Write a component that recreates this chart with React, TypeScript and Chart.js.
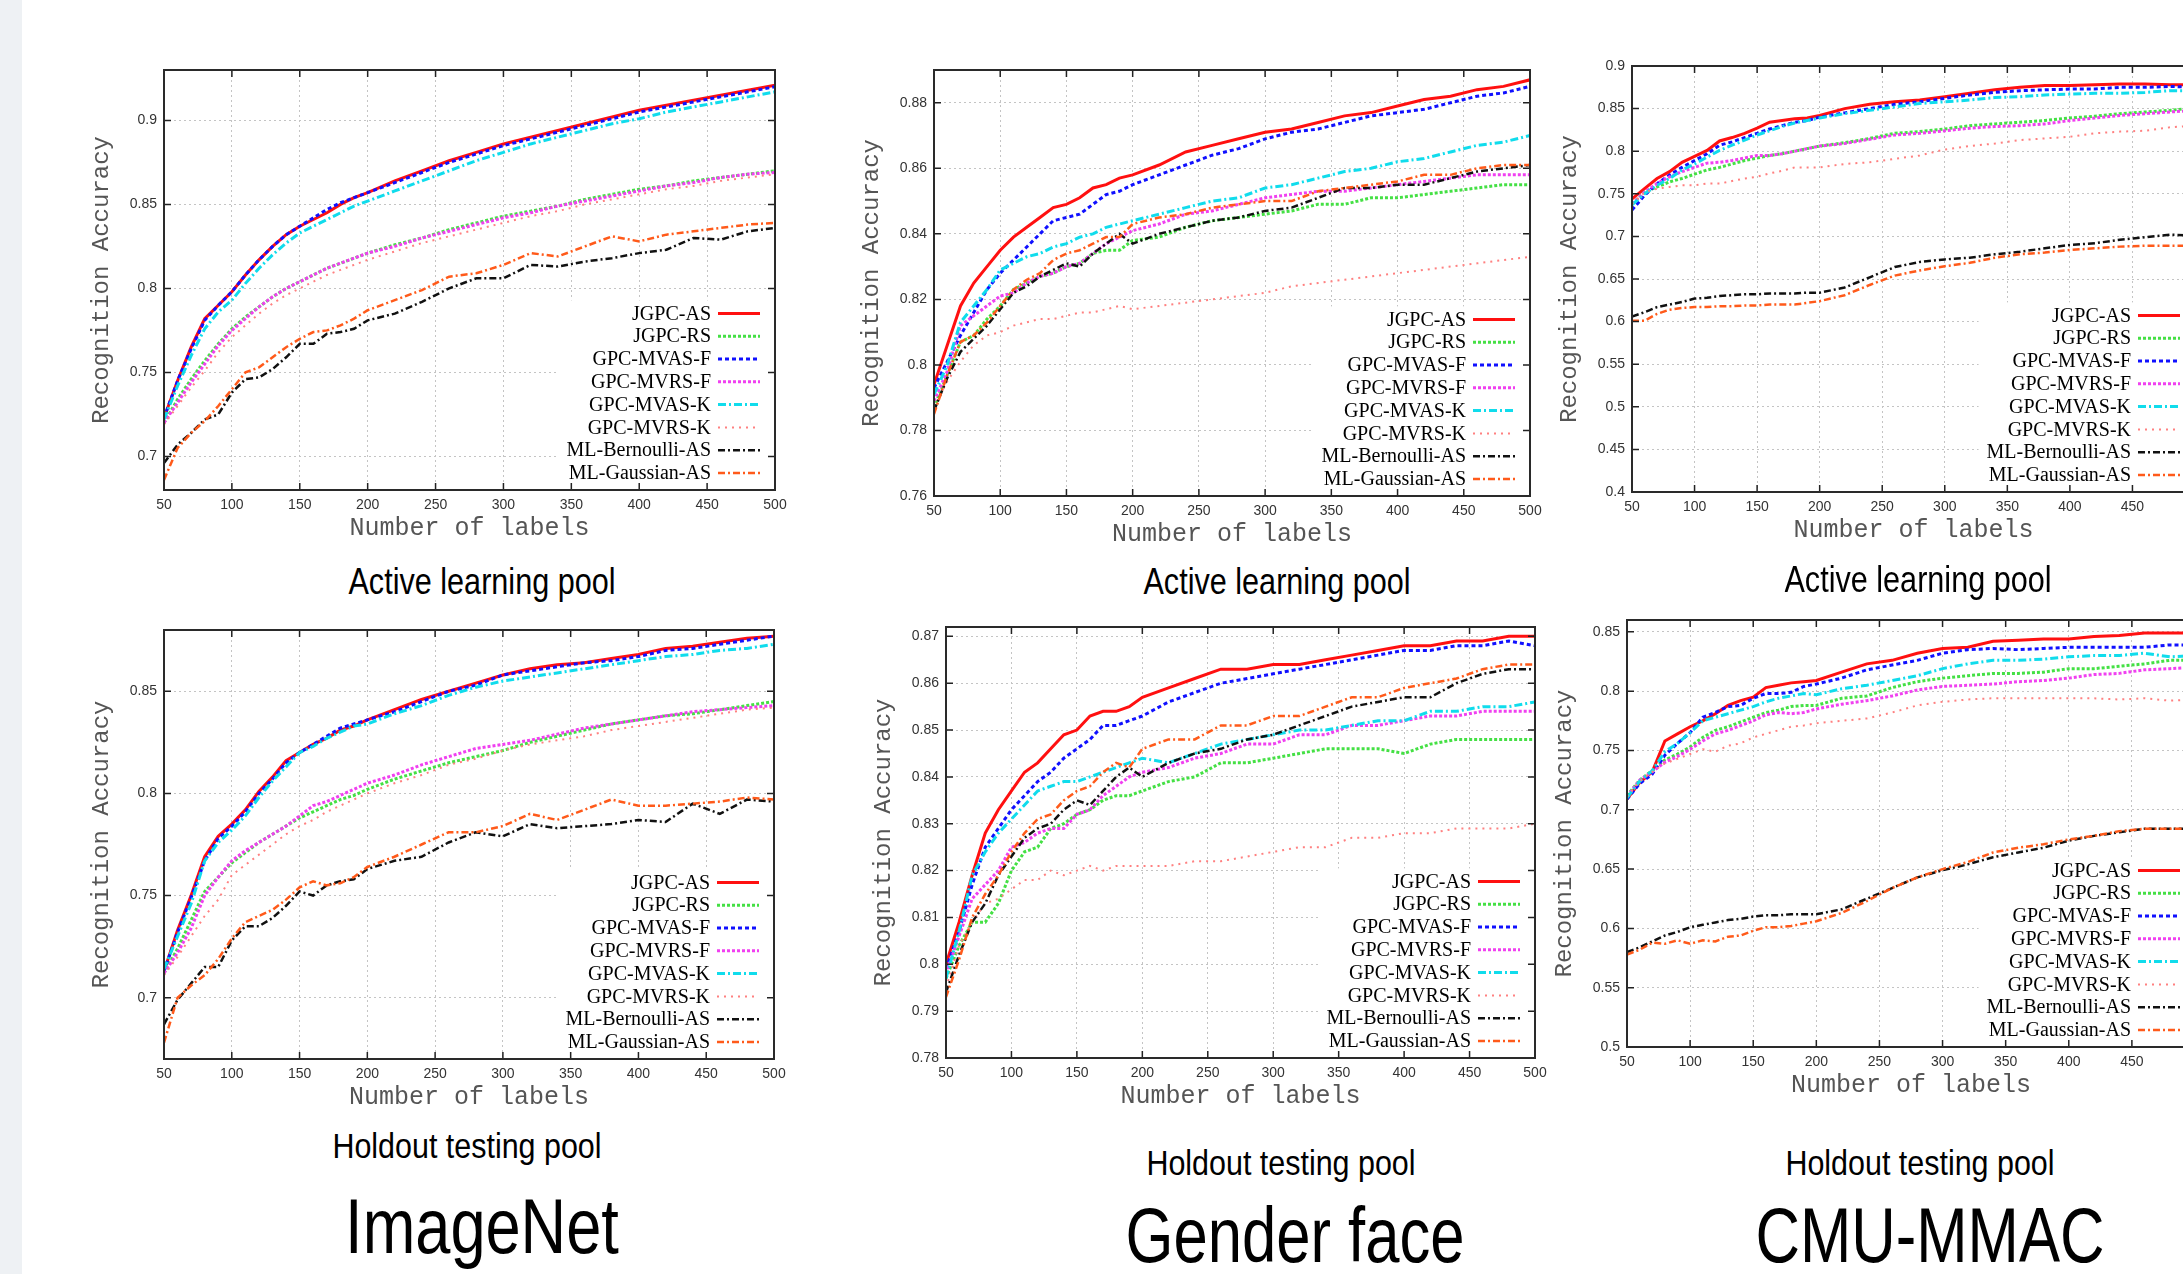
import React, { useEffect, useRef } from "react";
import { Chart, registerables } from "chart.js";

Chart.register(...registerables);

// ---------------- DATA ----------------
const X_VALUES = [50, 60, 70, 80, 90, 100, 110, 120, 130, 140, 150, 160, 170, 180, 190, 200, 220, 240, 260, 280, 300, 320, 340, 360, 380, 400, 420, 440, 460, 480, 500];
const X_TICKS = [50, 100, 150, 200, 250, 300, 350, 400, 450, 500];
const SERIES_NAMES = ["JGPC-AS", "JGPC-RS", "GPC-MVAS-F", "GPC-MVRS-F", "GPC-MVAS-K", "GPC-MVRS-K", "ML-Bernoulli-AS", "ML-Gaussian-AS"];

// ImageNet - Active learning pool
const IMG_ACT_JGPC_AS = [0.723, 0.745, 0.765, 0.782, 0.790, 0.798, 0.808, 0.817, 0.825, 0.832, 0.837, 0.841, 0.845, 0.850, 0.854, 0.857, 0.864, 0.870, 0.876, 0.881, 0.886, 0.890, 0.894, 0.898, 0.902, 0.906, 0.909, 0.912, 0.915, 0.918, 0.921];
const IMG_ACT_JGPC_RS = [0.720, 0.734, 0.746, 0.757, 0.767, 0.776, 0.783, 0.789, 0.795, 0.800, 0.804, 0.808, 0.812, 0.815, 0.818, 0.821, 0.826, 0.830, 0.835, 0.839, 0.843, 0.846, 0.849, 0.853, 0.856, 0.859, 0.861, 0.864, 0.866, 0.868, 0.870];
const IMG_ACT_MVAS_F = [0.723, 0.745, 0.764, 0.781, 0.790, 0.798, 0.808, 0.817, 0.825, 0.832, 0.837, 0.842, 0.847, 0.851, 0.854, 0.857, 0.863, 0.869, 0.875, 0.880, 0.885, 0.889, 0.893, 0.897, 0.901, 0.905, 0.908, 0.911, 0.914, 0.917, 0.920];
const IMG_ACT_MVRS_F = [0.720, 0.732, 0.744, 0.755, 0.766, 0.775, 0.782, 0.789, 0.795, 0.800, 0.804, 0.808, 0.812, 0.815, 0.818, 0.821, 0.825, 0.830, 0.834, 0.838, 0.842, 0.845, 0.849, 0.852, 0.855, 0.858, 0.861, 0.863, 0.866, 0.868, 0.869];
const IMG_ACT_MVAS_K = [0.722, 0.742, 0.760, 0.776, 0.786, 0.793, 0.803, 0.812, 0.820, 0.827, 0.833, 0.837, 0.841, 0.845, 0.849, 0.852, 0.858, 0.864, 0.870, 0.876, 0.881, 0.886, 0.890, 0.894, 0.898, 0.901, 0.905, 0.908, 0.911, 0.914, 0.917];
const IMG_ACT_MVRS_K = [0.719, 0.730, 0.741, 0.751, 0.762, 0.771, 0.778, 0.785, 0.791, 0.796, 0.800, 0.804, 0.808, 0.811, 0.814, 0.817, 0.822, 0.827, 0.831, 0.835, 0.839, 0.843, 0.846, 0.850, 0.853, 0.856, 0.859, 0.861, 0.864, 0.866, 0.868];
const IMG_ACT_ML_BER = [0.696, 0.707, 0.714, 0.722, 0.725, 0.738, 0.746, 0.747, 0.752, 0.759, 0.767, 0.767, 0.773, 0.774, 0.776, 0.781, 0.785, 0.792, 0.800, 0.806, 0.806, 0.814, 0.813, 0.816, 0.818, 0.821, 0.823, 0.830, 0.829, 0.834, 0.836];
const IMG_ACT_ML_GAU = [0.686, 0.705, 0.714, 0.721, 0.730, 0.740, 0.750, 0.753, 0.759, 0.765, 0.770, 0.774, 0.775, 0.778, 0.782, 0.787, 0.793, 0.799, 0.807, 0.809, 0.814, 0.821, 0.819, 0.825, 0.831, 0.828, 0.832, 0.834, 0.836, 0.838, 0.839];

// Gender face - Active learning pool
const GEN_ACT_JGPC_AS = [0.794, 0.806, 0.818, 0.825, 0.830, 0.835, 0.839, 0.842, 0.845, 0.848, 0.849, 0.851, 0.854, 0.855, 0.857, 0.858, 0.861, 0.865, 0.867, 0.869, 0.871, 0.872, 0.874, 0.876, 0.877, 0.879, 0.881, 0.882, 0.884, 0.885, 0.887];
const GEN_ACT_JGPC_RS = [0.787, 0.797, 0.807, 0.809, 0.814, 0.818, 0.823, 0.825, 0.827, 0.828, 0.830, 0.831, 0.834, 0.835, 0.835, 0.838, 0.839, 0.842, 0.844, 0.845, 0.846, 0.847, 0.849, 0.849, 0.851, 0.851, 0.852, 0.853, 0.854, 0.855, 0.855];
const GEN_ACT_MVAS_F = [0.793, 0.801, 0.809, 0.816, 0.823, 0.828, 0.832, 0.836, 0.840, 0.844, 0.845, 0.846, 0.849, 0.852, 0.853, 0.855, 0.858, 0.861, 0.864, 0.866, 0.869, 0.871, 0.872, 0.874, 0.876, 0.877, 0.878, 0.880, 0.882, 0.883, 0.885];
const GEN_ACT_MVRS_F = [0.789, 0.798, 0.812, 0.815, 0.818, 0.821, 0.822, 0.825, 0.827, 0.828, 0.830, 0.831, 0.834, 0.837, 0.839, 0.841, 0.843, 0.846, 0.847, 0.849, 0.851, 0.852, 0.853, 0.853, 0.854, 0.855, 0.856, 0.857, 0.858, 0.858, 0.858];
const GEN_ACT_MVAS_K = [0.791, 0.800, 0.813, 0.818, 0.823, 0.829, 0.831, 0.833, 0.834, 0.836, 0.837, 0.839, 0.840, 0.842, 0.843, 0.844, 0.846, 0.848, 0.850, 0.851, 0.854, 0.855, 0.857, 0.859, 0.860, 0.862, 0.863, 0.865, 0.867, 0.868, 0.870];
const GEN_ACT_MVRS_K = [0.787, 0.795, 0.801, 0.806, 0.809, 0.810, 0.812, 0.813, 0.814, 0.814, 0.815, 0.816, 0.816, 0.817, 0.818, 0.817, 0.818, 0.819, 0.820, 0.821, 0.822, 0.824, 0.825, 0.826, 0.827, 0.828, 0.829, 0.830, 0.831, 0.832, 0.833];
const GEN_ACT_ML_BER = [0.786, 0.796, 0.804, 0.808, 0.812, 0.817, 0.822, 0.824, 0.827, 0.829, 0.831, 0.830, 0.834, 0.837, 0.840, 0.837, 0.840, 0.842, 0.844, 0.845, 0.847, 0.848, 0.851, 0.854, 0.854, 0.855, 0.855, 0.857, 0.859, 0.860, 0.861];
const GEN_ACT_ML_GAU = [0.785, 0.797, 0.807, 0.809, 0.813, 0.818, 0.823, 0.826, 0.828, 0.832, 0.834, 0.835, 0.837, 0.839, 0.839, 0.843, 0.845, 0.846, 0.848, 0.849, 0.850, 0.850, 0.853, 0.854, 0.855, 0.856, 0.858, 0.858, 0.860, 0.861, 0.861];

// CMU-MMAC - Active learning pool
const CMU_ACT_JGPC_AS = [0.744, 0.756, 0.768, 0.776, 0.787, 0.794, 0.801, 0.812, 0.816, 0.821, 0.827, 0.834, 0.836, 0.838, 0.839, 0.842, 0.850, 0.855, 0.858, 0.860, 0.864, 0.868, 0.872, 0.875, 0.877, 0.877, 0.878, 0.879, 0.879, 0.878, 0.878];
const CMU_ACT_JGPC_RS = [0.738, 0.752, 0.758, 0.764, 0.768, 0.773, 0.778, 0.781, 0.785, 0.789, 0.792, 0.795, 0.797, 0.800, 0.803, 0.806, 0.810, 0.815, 0.821, 0.823, 0.826, 0.830, 0.832, 0.834, 0.836, 0.839, 0.841, 0.844, 0.846, 0.848, 0.851];
const CMU_ACT_MVAS_F = [0.731, 0.748, 0.762, 0.772, 0.781, 0.789, 0.797, 0.807, 0.811, 0.816, 0.821, 0.826, 0.830, 0.834, 0.836, 0.840, 0.845, 0.850, 0.855, 0.858, 0.862, 0.866, 0.869, 0.871, 0.872, 0.873, 0.873, 0.875, 0.875, 0.876, 0.875];
const CMU_ACT_MVRS_F = [0.738, 0.752, 0.762, 0.770, 0.776, 0.781, 0.786, 0.787, 0.789, 0.792, 0.795, 0.795, 0.797, 0.800, 0.803, 0.806, 0.809, 0.814, 0.819, 0.821, 0.824, 0.827, 0.829, 0.830, 0.832, 0.836, 0.839, 0.842, 0.844, 0.846, 0.848];
const CMU_ACT_MVAS_K = [0.737, 0.750, 0.760, 0.768, 0.778, 0.785, 0.793, 0.801, 0.807, 0.813, 0.819, 0.824, 0.829, 0.833, 0.836, 0.839, 0.844, 0.848, 0.852, 0.856, 0.858, 0.860, 0.863, 0.864, 0.866, 0.867, 0.868, 0.868, 0.869, 0.871, 0.871];
const CMU_ACT_MVRS_K = [0.738, 0.752, 0.756, 0.758, 0.760, 0.760, 0.762, 0.762, 0.765, 0.768, 0.770, 0.774, 0.777, 0.781, 0.781, 0.781, 0.785, 0.787, 0.791, 0.795, 0.802, 0.806, 0.809, 0.813, 0.815, 0.817, 0.821, 0.823, 0.824, 0.828, 0.830];
const CMU_ACT_ML_BER = [0.606, 0.611, 0.617, 0.620, 0.623, 0.627, 0.628, 0.630, 0.631, 0.632, 0.632, 0.633, 0.633, 0.633, 0.634, 0.634, 0.640, 0.652, 0.664, 0.670, 0.673, 0.675, 0.679, 0.682, 0.686, 0.690, 0.692, 0.696, 0.699, 0.702, 0.701];
const CMU_ACT_ML_GAU = [0.601, 0.601, 0.609, 0.614, 0.616, 0.617, 0.617, 0.618, 0.618, 0.619, 0.619, 0.620, 0.620, 0.620, 0.622, 0.624, 0.631, 0.643, 0.654, 0.660, 0.665, 0.669, 0.675, 0.679, 0.681, 0.684, 0.686, 0.688, 0.689, 0.689, 0.689];

// ImageNet - Holdout testing pool
const IMG_HOLD_JGPC_AS = [0.713, 0.733, 0.750, 0.769, 0.779, 0.785, 0.792, 0.801, 0.808, 0.816, 0.820, 0.824, 0.827, 0.831, 0.833, 0.836, 0.841, 0.846, 0.850, 0.854, 0.858, 0.861, 0.863, 0.864, 0.866, 0.868, 0.871, 0.872, 0.874, 0.876, 0.877];
const IMG_HOLD_JGPC_RS = [0.712, 0.724, 0.738, 0.752, 0.759, 0.766, 0.771, 0.776, 0.780, 0.784, 0.788, 0.791, 0.794, 0.797, 0.799, 0.802, 0.807, 0.811, 0.815, 0.818, 0.821, 0.825, 0.828, 0.831, 0.834, 0.836, 0.838, 0.839, 0.841, 0.843, 0.845];
const IMG_HOLD_MVAS_F = [0.713, 0.732, 0.749, 0.767, 0.778, 0.784, 0.791, 0.800, 0.807, 0.815, 0.820, 0.824, 0.828, 0.832, 0.834, 0.836, 0.840, 0.845, 0.850, 0.853, 0.858, 0.860, 0.862, 0.864, 0.865, 0.867, 0.870, 0.871, 0.873, 0.875, 0.877];
const IMG_HOLD_MVRS_F = [0.712, 0.722, 0.734, 0.750, 0.759, 0.767, 0.772, 0.776, 0.780, 0.784, 0.789, 0.794, 0.796, 0.799, 0.802, 0.805, 0.809, 0.814, 0.818, 0.822, 0.824, 0.826, 0.829, 0.832, 0.834, 0.836, 0.838, 0.840, 0.841, 0.842, 0.843];
const IMG_HOLD_MVAS_K = [0.714, 0.730, 0.746, 0.767, 0.776, 0.782, 0.789, 0.798, 0.806, 0.813, 0.820, 0.823, 0.827, 0.830, 0.833, 0.834, 0.839, 0.843, 0.848, 0.852, 0.855, 0.857, 0.859, 0.861, 0.863, 0.865, 0.867, 0.868, 0.870, 0.871, 0.873];
const IMG_HOLD_MVRS_K = [0.711, 0.720, 0.730, 0.740, 0.748, 0.760, 0.765, 0.770, 0.775, 0.780, 0.784, 0.787, 0.791, 0.794, 0.797, 0.800, 0.805, 0.809, 0.814, 0.817, 0.821, 0.824, 0.826, 0.828, 0.831, 0.833, 0.835, 0.837, 0.839, 0.841, 0.842];
const IMG_HOLD_ML_BER = [0.687, 0.699, 0.707, 0.715, 0.715, 0.728, 0.735, 0.735, 0.739, 0.745, 0.752, 0.750, 0.755, 0.757, 0.758, 0.763, 0.767, 0.769, 0.776, 0.781, 0.779, 0.785, 0.783, 0.784, 0.785, 0.787, 0.786, 0.795, 0.790, 0.797, 0.796];
const IMG_HOLD_ML_GAU = [0.678, 0.700, 0.706, 0.711, 0.719, 0.729, 0.737, 0.740, 0.743, 0.748, 0.754, 0.757, 0.755, 0.756, 0.759, 0.764, 0.769, 0.775, 0.781, 0.781, 0.784, 0.790, 0.787, 0.792, 0.797, 0.794, 0.794, 0.795, 0.796, 0.798, 0.797];

// Gender face - Holdout testing pool
const GEN_HOLD_JGPC_AS = [0.800, 0.809, 0.819, 0.828, 0.833, 0.837, 0.841, 0.843, 0.846, 0.849, 0.850, 0.853, 0.854, 0.854, 0.855, 0.857, 0.859, 0.861, 0.863, 0.863, 0.864, 0.864, 0.865, 0.866, 0.867, 0.868, 0.868, 0.869, 0.869, 0.870, 0.870];
const GEN_HOLD_JGPC_RS = [0.797, 0.804, 0.809, 0.809, 0.813, 0.820, 0.824, 0.825, 0.829, 0.830, 0.832, 0.833, 0.835, 0.836, 0.836, 0.837, 0.839, 0.840, 0.843, 0.843, 0.844, 0.845, 0.846, 0.846, 0.846, 0.845, 0.847, 0.848, 0.848, 0.848, 0.848];
const GEN_HOLD_MVAS_F = [0.799, 0.807, 0.817, 0.825, 0.829, 0.833, 0.836, 0.839, 0.841, 0.844, 0.846, 0.848, 0.851, 0.851, 0.852, 0.853, 0.856, 0.858, 0.860, 0.861, 0.862, 0.863, 0.864, 0.865, 0.866, 0.867, 0.867, 0.868, 0.868, 0.869, 0.868];
const GEN_HOLD_MVRS_F = [0.798, 0.806, 0.814, 0.817, 0.820, 0.825, 0.826, 0.828, 0.829, 0.829, 0.832, 0.833, 0.836, 0.838, 0.840, 0.841, 0.842, 0.844, 0.845, 0.847, 0.847, 0.849, 0.849, 0.851, 0.851, 0.852, 0.853, 0.853, 0.854, 0.854, 0.854];
const GEN_HOLD_MVAS_K = [0.797, 0.807, 0.819, 0.824, 0.828, 0.831, 0.834, 0.837, 0.838, 0.839, 0.839, 0.840, 0.841, 0.842, 0.843, 0.844, 0.843, 0.845, 0.847, 0.848, 0.849, 0.850, 0.850, 0.851, 0.852, 0.852, 0.854, 0.854, 0.855, 0.855, 0.856];
const GEN_HOLD_MVRS_K = [0.795, 0.804, 0.809, 0.813, 0.814, 0.816, 0.818, 0.818, 0.820, 0.819, 0.820, 0.821, 0.820, 0.821, 0.821, 0.821, 0.821, 0.822, 0.822, 0.823, 0.824, 0.825, 0.825, 0.827, 0.827, 0.828, 0.828, 0.829, 0.829, 0.829, 0.830];
const GEN_HOLD_ML_BER = [0.794, 0.802, 0.809, 0.813, 0.819, 0.823, 0.827, 0.829, 0.830, 0.833, 0.835, 0.834, 0.837, 0.840, 0.842, 0.840, 0.843, 0.845, 0.846, 0.848, 0.849, 0.851, 0.853, 0.855, 0.856, 0.857, 0.857, 0.860, 0.862, 0.863, 0.863];
const GEN_HOLD_ML_GAU = [0.793, 0.801, 0.810, 0.815, 0.819, 0.824, 0.828, 0.831, 0.832, 0.835, 0.837, 0.838, 0.841, 0.843, 0.842, 0.846, 0.848, 0.848, 0.851, 0.851, 0.853, 0.853, 0.855, 0.857, 0.857, 0.859, 0.860, 0.861, 0.863, 0.864, 0.864];

// CMU-MMAC - Holdout testing pool
const CMU_HOLD_JGPC_AS = [0.709, 0.723, 0.732, 0.758, 0.764, 0.770, 0.775, 0.781, 0.788, 0.792, 0.795, 0.803, 0.805, 0.807, 0.808, 0.809, 0.816, 0.823, 0.826, 0.832, 0.836, 0.837, 0.842, 0.843, 0.844, 0.844, 0.846, 0.847, 0.849, 0.849, 0.849];
const CMU_HOLD_JGPC_RS = [0.712, 0.725, 0.733, 0.742, 0.747, 0.753, 0.761, 0.767, 0.770, 0.774, 0.778, 0.782, 0.784, 0.787, 0.788, 0.788, 0.794, 0.796, 0.803, 0.808, 0.811, 0.813, 0.815, 0.815, 0.816, 0.819, 0.819, 0.821, 0.823, 0.826, 0.826];
const CMU_HOLD_MVAS_F = [0.709, 0.722, 0.730, 0.746, 0.756, 0.765, 0.778, 0.782, 0.787, 0.788, 0.794, 0.798, 0.798, 0.799, 0.804, 0.806, 0.811, 0.818, 0.822, 0.826, 0.832, 0.835, 0.836, 0.835, 0.836, 0.837, 0.837, 0.837, 0.837, 0.839, 0.839];
const CMU_HOLD_MVRS_F = [0.711, 0.725, 0.732, 0.740, 0.745, 0.751, 0.758, 0.764, 0.767, 0.771, 0.775, 0.780, 0.782, 0.781, 0.782, 0.785, 0.789, 0.792, 0.796, 0.801, 0.804, 0.805, 0.806, 0.808, 0.809, 0.811, 0.814, 0.815, 0.818, 0.819, 0.820];
const CMU_HOLD_MVAS_K = [0.710, 0.724, 0.733, 0.749, 0.756, 0.765, 0.775, 0.778, 0.781, 0.784, 0.787, 0.791, 0.794, 0.796, 0.798, 0.797, 0.802, 0.805, 0.809, 0.813, 0.819, 0.823, 0.826, 0.826, 0.827, 0.829, 0.830, 0.830, 0.832, 0.829, 0.830];
const CMU_HOLD_MVRS_K = [0.711, 0.724, 0.732, 0.739, 0.743, 0.747, 0.751, 0.749, 0.754, 0.756, 0.761, 0.764, 0.767, 0.770, 0.771, 0.773, 0.775, 0.777, 0.782, 0.788, 0.791, 0.793, 0.794, 0.794, 0.794, 0.794, 0.794, 0.793, 0.794, 0.792, 0.793];
const CMU_HOLD_ML_BER = [0.580, 0.584, 0.589, 0.594, 0.597, 0.601, 0.603, 0.605, 0.607, 0.608, 0.610, 0.611, 0.611, 0.612, 0.612, 0.612, 0.616, 0.625, 0.634, 0.643, 0.649, 0.654, 0.660, 0.664, 0.668, 0.674, 0.678, 0.681, 0.684, 0.684, 0.684];
const CMU_HOLD_ML_GAU = [0.578, 0.582, 0.588, 0.587, 0.590, 0.587, 0.590, 0.589, 0.593, 0.594, 0.598, 0.601, 0.601, 0.602, 0.604, 0.606, 0.613, 0.623, 0.634, 0.643, 0.650, 0.656, 0.664, 0.668, 0.671, 0.675, 0.678, 0.682, 0.684, 0.684, 0.684];

// y tick labels
const IMG_ACT_YTICKS = [0.7, 0.75, 0.8, 0.85, 0.9];
const GEN_ACT_YTICKS = [0.76, 0.78, 0.8, 0.82, 0.84, 0.86, 0.88];
const CMU_ACT_YTICKS = [0.4, 0.45, 0.5, 0.55, 0.6, 0.65, 0.7, 0.75, 0.8, 0.85, 0.9];
const IMG_HOLD_YTICKS = [0.7, 0.75, 0.8, 0.85];
const GEN_HOLD_YTICKS = [0.78, 0.79, 0.8, 0.81, 0.82, 0.83, 0.84, 0.85, 0.86, 0.87];
const CMU_HOLD_YTICKS = [0.5, 0.55, 0.6, 0.65, 0.7, 0.75, 0.8, 0.85];

// ---------------- STYLE / LAYOUT ----------------
const STYLES = [
  { color: "#ff1010", dash: [], width: 3 },
  { color: "#44e044", dash: [3, 2], width: 3 },
  { color: "#1010ff", dash: [4, 3], width: 3 },
  { color: "#f040f0", dash: [3, 2], width: 3 },
  { color: "#10dcec", dash: [8, 3, 2, 3], width: 3 },
  { color: "#ff8080", dash: [2, 5], width: 2 },
  { color: "#111111", dash: [7, 3, 2, 3], width: 2.5 },
  { color: "#ff5a1a", dash: [7, 3, 2, 3], width: 2.5 },
];

const PAD_L = 6, PAD_T = 22, PAD_R = 28, PAD_B = 2, Y_AXIS_W = 74, X_AXIS_H = 51;

const PANELS = [
  { series: [IMG_ACT_JGPC_AS, IMG_ACT_JGPC_RS, IMG_ACT_MVAS_F, IMG_ACT_MVRS_F, IMG_ACT_MVAS_K, IMG_ACT_MVRS_K, IMG_ACT_ML_BER, IMG_ACT_ML_GAU], yMin: 0.68, yMax: 0.93, yTicks: IMG_ACT_YTICKS, rect: { L: 164, T: 70, R: 775, B: 490 } },
  { series: [GEN_ACT_JGPC_AS, GEN_ACT_JGPC_RS, GEN_ACT_MVAS_F, GEN_ACT_MVRS_F, GEN_ACT_MVAS_K, GEN_ACT_MVRS_K, GEN_ACT_ML_BER, GEN_ACT_ML_GAU], yMin: 0.76, yMax: 0.89, yTicks: GEN_ACT_YTICKS, rect: { L: 934, T: 70, R: 1530, B: 496 } },
  { series: [CMU_ACT_JGPC_AS, CMU_ACT_JGPC_RS, CMU_ACT_MVAS_F, CMU_ACT_MVRS_F, CMU_ACT_MVAS_K, CMU_ACT_MVRS_K, CMU_ACT_ML_BER, CMU_ACT_ML_GAU], yMin: 0.4, yMax: 0.9, yTicks: CMU_ACT_YTICKS, rect: { L: 1632, T: 66, R: 2195, B: 492 } },
  { series: [IMG_HOLD_JGPC_AS, IMG_HOLD_JGPC_RS, IMG_HOLD_MVAS_F, IMG_HOLD_MVRS_F, IMG_HOLD_MVAS_K, IMG_HOLD_MVRS_K, IMG_HOLD_ML_BER, IMG_HOLD_ML_GAU], yMin: 0.67, yMax: 0.88, yTicks: IMG_HOLD_YTICKS, rect: { L: 164, T: 630, R: 774, B: 1059 } },
  { series: [GEN_HOLD_JGPC_AS, GEN_HOLD_JGPC_RS, GEN_HOLD_MVAS_F, GEN_HOLD_MVRS_F, GEN_HOLD_MVAS_K, GEN_HOLD_MVRS_K, GEN_HOLD_ML_BER, GEN_HOLD_ML_GAU], yMin: 0.78, yMax: 0.872, yTicks: GEN_HOLD_YTICKS, rect: { L: 946, T: 627, R: 1535, B: 1058 } },
  { series: [CMU_HOLD_JGPC_AS, CMU_HOLD_JGPC_RS, CMU_HOLD_MVAS_F, CMU_HOLD_MVRS_F, CMU_HOLD_MVAS_K, CMU_HOLD_MVRS_K, CMU_HOLD_ML_BER, CMU_HOLD_ML_GAU], yMin: 0.5, yMax: 0.86, yTicks: CMU_HOLD_YTICKS, rect: { L: 1627, T: 620, R: 2195, B: 1047 } },
];

const LABELS = [
  { text: "Active learning pool", cx: 482, capTop: 569, fs: 36, sx: 0.85 },
  { text: "Active learning pool", cx: 1277, capTop: 569, fs: 36, sx: 0.85 },
  { text: "Active learning pool", cx: 1918, capTop: 567, fs: 36, sx: 0.85 },
  { text: "Holdout testing pool", cx: 467, capTop: 1133, fs: 35, sx: 0.87 },
  { text: "Holdout testing pool", cx: 1281, capTop: 1150, fs: 35, sx: 0.87 },
  { text: "Holdout testing pool", cx: 1920, capTop: 1150, fs: 35, sx: 0.87 },
  { text: "ImageNet", cx: 482, capTop: 1198, fs: 77, sx: 0.82 },
  { text: "Gender face", cx: 1295, capTop: 1207, fs: 77, sx: 0.8 },
  { text: "CMU-MMAC", cx: 1930, capTop: 1207, fs: 77, sx: 0.8 },
];

const LEG_FONT = '20px "Liberation Serif", "Times New Roman", serif';

function legendLayout(chart: any) {
  const a = chart.chartArea;
  const ctx = chart.ctx;
  const n = chart.data.datasets.length;
  const spacing = 22.8;
  const lastY = a.bottom - 17;
  const sampleRight = a.right - 15;
  const sampleLeft = sampleRight - 42;
  const textRight = sampleLeft - 7;
  ctx.save();
  ctx.font = LEG_FONT;
  let maxW = 0;
  chart.data.datasets.forEach((d: any) => { maxW = Math.max(maxW, ctx.measureText(d.label).width); });
  ctx.restore();
  const firstY = lastY - (n - 1) * spacing;
  return { spacing, lastY, firstY, sampleLeft, sampleRight, textRight, boxLeft: textRight - maxW - 8, boxTop: firstY - 13 };
}

const framePlugin = {
  id: "gnuFrame",
  beforeDatasetsDraw(chart: any) {
    const { ctx, chartArea: a } = chart;
    const lay = legendLayout(chart);
    ctx.save();
    ctx.fillStyle = "#ffffff";
    ctx.fillRect(lay.boxLeft, lay.boxTop, a.right - lay.boxLeft - 1, a.bottom - lay.boxTop - 1);
    ctx.restore();
  },
  afterDatasetsDraw(chart: any) {
    const { ctx, chartArea: a } = chart;
    const lay = legendLayout(chart);
    ctx.save();
    // legend
    ctx.font = LEG_FONT;
    ctx.textAlign = "right";
    ctx.textBaseline = "middle";
    chart.data.datasets.forEach((d: any, i: number) => {
      const y = lay.firstY + i * lay.spacing;
      ctx.fillStyle = "#000";
      ctx.fillText(d.label, lay.textRight, y + 1);
      ctx.save();
      ctx.strokeStyle = d.borderColor;
      ctx.lineWidth = d.borderWidth;
      ctx.setLineDash(d.borderDash || []);
      ctx.beginPath();
      ctx.moveTo(lay.sampleLeft, y);
      ctx.lineTo(lay.sampleRight, y);
      ctx.stroke();
      ctx.restore();
    });
    // inward ticks
    ctx.strokeStyle = "#222";
    ctx.lineWidth = 1.5;
    ctx.setLineDash([]);
    const tl = 7;
    const xs = chart.scales.x, ys = chart.scales.y;
    ctx.beginPath();
    xs.ticks.forEach((t: any) => {
      const px = xs.getPixelForValue(t.value);
      ctx.moveTo(px, a.bottom); ctx.lineTo(px, a.bottom - tl);
      ctx.moveTo(px, a.top); ctx.lineTo(px, a.top + tl);
    });
    ys.ticks.forEach((t: any) => {
      const py = ys.getPixelForValue(t.value);
      ctx.moveTo(a.left, py); ctx.lineTo(a.left + tl, py);
      ctx.moveTo(a.right, py); ctx.lineTo(a.right - tl, py);
    });
    ctx.stroke();
    // frame
    ctx.lineWidth = 2;
    ctx.strokeStyle = "#2a2a2a";
    ctx.strokeRect(a.left, a.top, a.right - a.left, a.bottom - a.top);
    ctx.restore();
  },
};

function fmt(v: number) {
  return String(Math.round(v * 1000) / 1000);
}

function buildConfig(p: any): any {
  return {
    type: "line",
    data: {
      datasets: p.series.map((vals: number[], i: number) => ({
        label: SERIES_NAMES[i],
        data: vals.map((v, j) => ({ x: X_VALUES[j], y: v })),
        borderColor: STYLES[i].color,
        borderDash: STYLES[i].dash,
        borderWidth: STYLES[i].width,
        pointRadius: 0,
        fill: false,
        tension: 0,
        order: -i,
      })),
    },
    options: {
      animation: false,
      responsive: false,
      maintainAspectRatio: false,
      layout: { padding: { left: PAD_L, top: PAD_T, right: PAD_R, bottom: PAD_B } },
      plugins: { legend: { display: false }, tooltip: { enabled: false } },
      scales: {
        x: {
          type: "linear",
          min: 50,
          max: 500,
          afterBuildTicks: (s: any) => { s.ticks = X_TICKS.map((v) => ({ value: v })); },
          afterFit: (s: any) => { s.height = X_AXIS_H; },
          grid: { color: "#c4c4c4", lineWidth: 1, drawTicks: false },
          border: { display: false, dash: [2, 3] },
          ticks: { padding: 7, autoSkip: false, maxRotation: 0, color: "#333", font: { family: "Liberation Sans", size: 14 }, callback: (v: any) => String(v) },
          title: { display: true, text: "Number of labels", color: "#555", padding: 0, font: { family: "Liberation Mono", size: 25, lineHeight: 1 } },
        },
        y: {
          type: "linear",
          min: p.yMin,
          max: p.yMax,
          afterBuildTicks: (s: any) => { s.ticks = p.yTicks.map((v: number) => ({ value: v })); },
          afterFit: (s: any) => { s.width = Y_AXIS_W; },
          grid: { color: "#c4c4c4", lineWidth: 1, drawTicks: false },
          border: { display: false, dash: [2, 3] },
          ticks: { padding: 7, autoSkip: false, color: "#333", font: { family: "Liberation Sans", size: 14 }, callback: (v: any) => fmt(Number(v)) },
          title: { display: true, text: "Recognition Accuracy", color: "#555", padding: 0, font: { family: "Liberation Mono", size: 24, lineHeight: 1 } },
        },
      },
    },
    plugins: [framePlugin],
  };
}

function Panel({ p }: { p: any }) {
  const ref = useRef<HTMLCanvasElement>(null);
  useEffect(() => {
    const chart = new Chart(ref.current as HTMLCanvasElement, buildConfig(p));
    return () => chart.destroy();
  }, []);
  const { L, T, R, B } = p.rect;
  const w = PAD_L + Y_AXIS_W + (R - L) + PAD_R;
  const h = PAD_T + (B - T) + X_AXIS_H + PAD_B;
  return (
    <canvas
      ref={ref}
      width={w}
      height={h}
      style={{ position: "absolute", left: L - PAD_L - Y_AXIS_W, top: T - PAD_T, width: w, height: h }}
    />
  );
}

export default function App() {
  useEffect(() => {
    document.body.style.margin = "0";
    document.body.style.overflow = "hidden";
  }, []);
  return (
    <div style={{ position: "absolute", left: 0, top: 0, width: 2183, height: 1274, overflow: "hidden", background: "#ffffff" }}>
      <div style={{ position: "absolute", left: 0, top: 0, width: 22, height: 1274, background: "#eef1f4" }} />
      {PANELS.map((p, i) => (
        <Panel key={i} p={p} />
      ))}
      {LABELS.map((l, i) => (
        <div
          key={"l" + i}
          style={{
            position: "absolute",
            left: l.cx,
            top: l.capTop - 0.13 * l.fs,
            fontFamily: '"Liberation Sans", Arial, sans-serif',
            fontSize: l.fs,
            lineHeight: 1,
            whiteSpace: "nowrap",
            color: "#000",
            transform: `translateX(-50%) scaleX(${l.sx})`,
          }}
        >
          {l.text}
        </div>
      ))}
    </div>
  );
}
